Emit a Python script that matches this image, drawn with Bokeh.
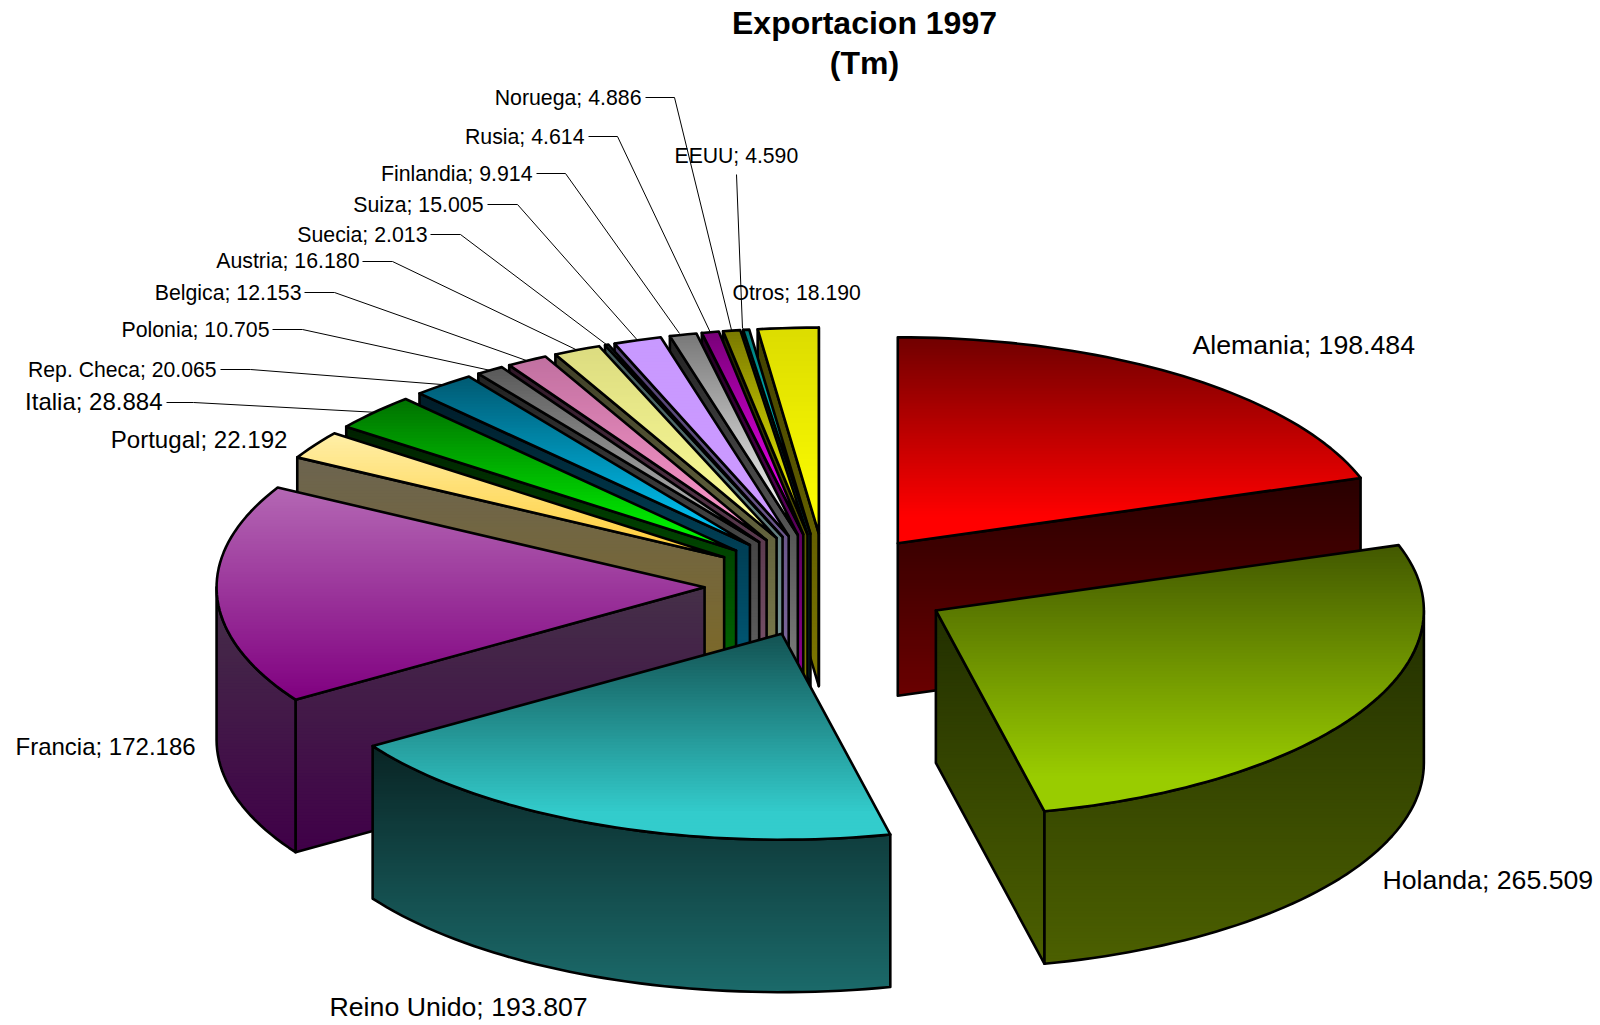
import math
from bokeh.plotting import figure
from bokeh.models import Range1d, ColumnDataSource
from bokeh.core.properties import value
from bokeh.embed import file_html
from bokeh.resources import INLINE

# ---- data ----
countries = ["Alemania", "Holanda", "Reino Unido", "Francia", "Portugal", "Italia",
             "Rep. Checa", "Polonia", "Belgica", "Austria", "Suecia", "Suiza",
             "Finlandia", "Rusia", "Noruega", "EEUU", "Otros"]
tonnes = [198.484, 265.509, 193.807, 172.186, 22.192, 28.884, 20.065, 10.705, 12.153,
          16.180, 2.013, 15.005, 9.914, 4.614, 4.886, 4.590, 18.190]
title_lines = ["Exportacion 1997", "(Tm)"]
value_labels = ["198.484", "265.509", "193.807", "172.186", "22.192", "28.884", "20.065",
                "10.705", "12.153", "16.180", "2.013", "15.005", "9.914", "4.614", "4.886",
                "4.590", "18.190"]

# ---- colours: (top surface start, end), (side start, end) ----
top_a = ["#700000", "#425800", "#135252", "#b468b4", "#ffefa8", "#007000", "#005a72", "#585858",
         "#c070a0", "#dcdc80", "#5e8a8a", "#c899ff", "#787878", "#780078", "#787800", "#007878", "#dcdc00"]
top_b = ["#ff0000", "#99cc00", "#33cccc", "#800080", "#ffcc33", "#00ff00", "#00ccff", "#c0c0c0",
         "#ff99cc", "#ffff99", "#669999", "#cc99ff", "#ffffff", "#ff00ff", "#ffff00", "#00ffff", "#ffff00"]
side_a = ["#280000", "#222f00", "#092424", "#453048", "#6c6450", "#002000", "#001c28", "#222222",
          "#301828", "#404028", "#405858", "#504070", "#222222", "#200020", "#202000", "#002020", "#404000"]
side_b = ["#6a0000", "#4c6000", "#1b6a6a", "#400048", "#806a20", "#007000", "#006080", "#666666",
          "#805870", "#808050", "#80a0a0", "#806aa0", "#808080", "#900090", "#808000", "#008080", "#807800"]
top_span = {0: 0.87, 1: 0.87, 2: 0.87}

# ---- layout ----
RX, RY, DEPTH = 488.0, 206.0, 152.5
CX0, CY0, EX, EY = 826.0, 585.0, 122.0, 52.0
DRAW_ORDER = [16, 15, 14, 13, 12, 11, 10, 9, 8, 7, 6, 5, 4, 3, 0, 1, 2]
BAND = 3.0
center_nudge = {1: (3.0, -0.5), 2: (1.0, 0.0)}
# small corrections (degrees) to slice boundaries, as the reference's renderer places them
boundary_nudge = {6: 0.25, 7: -0.3, 8: 0.2, 10: -0.3, 12: -0.37, 14: 0.28, 15: -0.65}


def hex_rgb(c):
    return tuple(int(c[i:i + 2], 16) for i in (1, 3, 5))


def mix(a, b, t):
    t = max(0.0, min(1.0, t))
    ra, rb = hex_rgb(a), hex_rgb(b)
    return "#%02x%02x%02x" % tuple(round(ra[i] + (rb[i] - ra[i]) * t) for i in range(3))


def clip_band(poly, y0, y1):
    def clip(pts, keep, cross):
        out = []
        for i, p in enumerate(pts):
            q = pts[(i + 1) % len(pts)]
            if keep(p):
                out.append(p)
            if keep(p) != keep(q):
                out.append(cross(p, q))
        return out

    def at(y):
        return lambda p, q: (p[0] + (q[0] - p[0]) * (y - p[1]) / (q[1] - p[1]), y)

    r = clip(poly, lambda p: p[1] >= y0, at(y0))
    if r:
        r = clip(r, lambda p: p[1] <= y1, at(y1))
    return r


xs, ys, fills, falpha, lines, lalpha, lwidth = [], [], [], [], [], [], []


def add_gradient(poly, ya, yb, c0, c1):
    lo, hi = min(p[1] for p in poly), max(p[1] for p in poly)
    y = lo
    while y < hi:
        piece = clip_band(poly, y, min(y + BAND + 1.0, hi))
        if len(piece) >= 3:
            xs.append([p[0] for p in piece])
            ys.append([p[1] for p in piece])
            fills.append(mix(c0, c1, (y + BAND / 2 - ya) / max(yb - ya, 1)))
            falpha.append(1.0)
            lines.append("#000000")
            lalpha.append(0.0)
            lwidth.append(0.0)
        y += BAND


def add_outline(poly):
    xs.append([p[0] for p in poly])
    ys.append([p[1] for p in poly])
    fills.append("#000000")
    falpha.append(0.0)
    lines.append("#000000")
    lalpha.append(1.0)
    lwidth.append(2.6)


total = sum(tonnes)
starts, ends, acc = [], [], 0.0
for i, v in enumerate(tonnes):
    starts.append(acc / total * 360.0 + boundary_nudge.get(i - 1, 0.0))
    acc += v
    ends.append(acc / total * 360.0 + boundary_nudge.get(i, 0.0))


def center(i):
    m = math.radians((starts[i] + ends[i]) / 2)
    nx, ny = center_nudge.get(i, (0.0, 0.0))
    return CX0 + EX * math.sin(m) + nx, CY0 - EY * math.cos(m) + ny


def rim(i, deg):
    cx, cy = center(i)
    a = math.radians(deg)
    return cx + RX * math.sin(a), cy - RY * math.cos(a)


def arc(i, a0, a1):
    n = max(2, int(abs(a1 - a0) / 1.5) + 2)
    return [rim(i, a0 + (a1 - a0) * k / (n - 1)) for k in range(n)]


for i in DRAW_ORDER:
    a0, a1 = starts[i], ends[i]
    c = center(i)
    top = [c] + arc(i, a0, a1)
    sides = []
    if math.sin(math.radians(a0)) < 0:       # start wall faces the viewer
        r = rim(i, a0)
        sides.append([c, r, (r[0], r[1] + DEPTH), (c[0], c[1] + DEPTH)])
    if math.sin(math.radians(a1)) > 0:       # end wall faces the viewer
        r = rim(i, a1)
        sides.append([c, r, (r[0], r[1] + DEPTH), (c[0], c[1] + DEPTH)])
    f0, f1 = max(a0, 90.0), min(a1, 270.0)
    if f1 > f0:                              # visible part of the curved side
        upper = arc(i, f0, f1)
        sides.append(upper + [(x, y + DEPTH) for x, y in reversed(upper)])
    if sides:
        all_y = [p[1] for s in sides for p in s]
        ya, yb = min(all_y), max(all_y)
        for s in sides:
            add_gradient(s, ya, yb, side_a[i], side_b[i])
            add_outline(s)
    ya, yb = min(p[1] for p in top), max(p[1] for p in top)
    add_gradient(top, ya, ya + (yb - ya) * top_span.get(i, 1.0), top_a[i], top_b[i])
    add_outline(top)

p = figure(width=1600, height=1025, x_range=Range1d(0, 1600), y_range=Range1d(1025, 0),
           output_backend="svg", toolbar_location=None, min_border=0)
p.axis.visible = False
p.grid.visible = False
p.outline_line_color = None
p.background_fill_color = "#ffffff"
p.border_fill_color = "#ffffff"

p.patches("xs", "ys", source=ColumnDataSource(dict(xs=xs, ys=ys, fill=fills, fa=falpha, lc=lines, la=lalpha, lw=lwidth)),
          fill_color="fill", fill_alpha="fa", line_color="lc", line_alpha="la", line_width="lw",
          line_join="round")

# leader lines: label end -> knee -> middle of the slice rim
leader_start = {14: (645, 97), 13: (588, 136), 12: (536, 173), 11: (487, 204), 10: (430, 234),
                9: (362, 261), 8: (304, 292), 7: (272, 329), 6: (220, 369), 5: (166, 402)}
leader_knee = {14: (674, 97), 13: (617, 136), 12: (565, 173), 11: (517, 204), 10: (460, 234),
               9: (392, 261), 8: (334, 292), 7: (302, 329), 6: (250, 369), 5: (193, 402)}
leader_end_override = {12: (679, 333), 15: (742, 328)}
lx, ly = [], []
for i in leader_start:
    e = leader_end_override.get(i) or rim(i, (starts[i] + ends[i]) / 2)
    lx.append([leader_start[i][0], leader_knee[i][0], e[0]])
    ly.append([leader_start[i][1], leader_knee[i][1], e[1]])
e = leader_end_override[15]
lx.append([736, e[0]])
ly.append([174, e[1]])
p.multi_line(lx, ly, line_color="#000000", line_width=1)

font = value("Liberation Sans")
labels = [c + "; " + v for c, v in zip(countries, value_labels)]
left_at = {0: (1192, 344, "26.7px"), 1: (1382, 879, "26.7px"), 2: (329, 1006, "26.7px"), 3: (15, 746, "24px"),
           15: (674, 155, "21.2px"), 16: (732, 292, "21.2px")}
right_at = {4: (287, 439, "24.1px"), 5: (162, 401, "24px"), 6: (216, 369, "21.2px"), 7: (269, 329, "21.3px"),
            8: (301, 292, "21.3px"), 9: (359, 260, "21.3px"), 10: (427, 234, "21.3px"), 11: (483, 204, "21.3px"),
            12: (532, 173, "21.3px"), 13: (584, 136, "21.3px"), 14: (641, 97, "21.3px")}
for table, align in ((left_at, "left"), (right_at, "right")):
    src = ColumnDataSource(dict(x=[v[0] for v in table.values()], y=[v[1] for v in table.values()],
                                t=[labels[k] for k in table], s=[v[2] for v in table.values()]))
    p.text("x", "y", text="t", source=src, text_font=font, text_font_size="s", text_align=align,
           text_baseline="middle", text_color="#000000")

p.text([864, 864], [22, 62], text=title_lines, text_font=font, text_font_size=value("32px"),
       text_font_style="bold", text_align="center", text_baseline="middle", text_color="#000000")

open("out.html", "w").write(file_html(p, INLINE))
